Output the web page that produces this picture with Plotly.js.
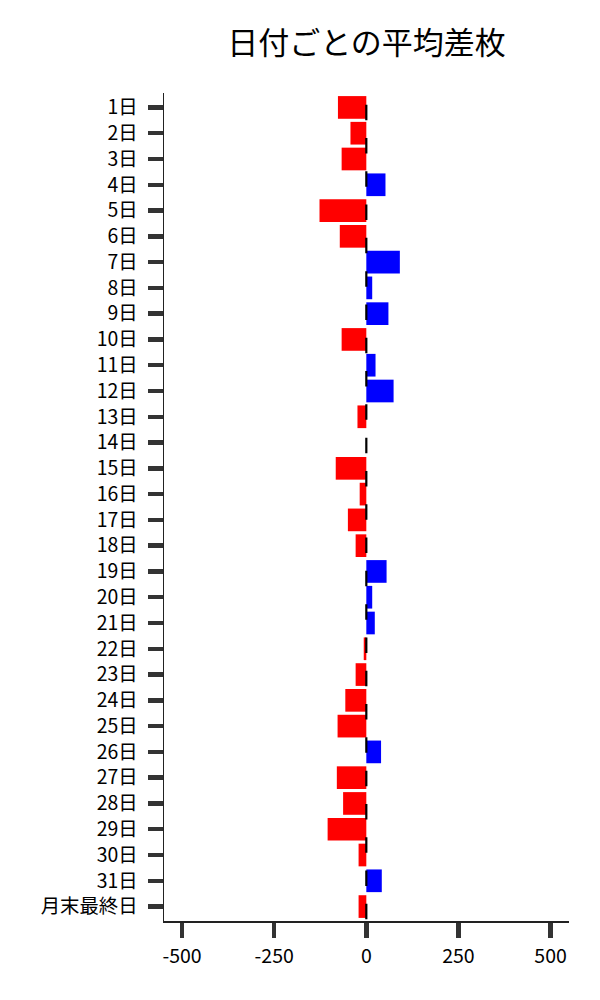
<!DOCTYPE html>
<html>
<head>
<meta charset="utf-8">
<script src="https://cdn.plot.ly/plotly-3.0.1.min.js"></script>
<style>
  html, body { margin: 0; padding: 0; background: #fff; }
  #plot { width: 600px; height: 1000px; }
</style>
</head>
<body>
<div id="plot"></div>
<script>
    const days = [
        '1日', '2日', '3日', '4日', '5日', '6日', '7日', '8日', '9日', '10日',
        '11日', '12日', '13日', '14日', '15日', '16日', '17日', '18日', '19日', '20日',
        '21日', '22日', '23日', '24日', '25日', '26日', '27日', '28日', '29日', '30日',
        '31日', '月末最終日'
    ];
    const avgDiff = [
        -77, -43, -67, 52, -127, -72, 91, 16, 60, -67,
        25, 74, -24, 0, -83, -18, -50, -29, 55, 16,
        23, -7, -29, -57, -78, 40, -80, -63, -105, -21,
        42, -21
    ];
    const xTicks = [-500, -250, 0, 250, 500];

    const font = 'Noto Sans CJK JP, Noto Sans, sans-serif';
    const barColors = avgDiff.map(v => v < 0 ? '#ff0000' : '#0000ff');

    const trace = {
        type: 'bar',
        orientation: 'h',
        y: days,
        x: avgDiff,
        width: 0.88,
        marker: { color: barColors, line: { width: 0 } },
        hoverinfo: 'skip'
    };

    const layout = {
        width: 600,
        height: 1000,
        margin: { l: 164, r: 31, t: 93, b: 79 },
        paper_bgcolor: '#ffffff',
        plot_bgcolor: '#ffffff',
        showlegend: false,
        hovermode: false,
        font: { family: font, color: '#000', size: 19 },
        title: {
            text: '日付ごとの平均差枚',
            font: { family: font, size: 31, color: '#000' },
            x: 0.5, xref: 'paper',
            y: 0.957, yref: 'container', yanchor: 'middle'
        },
        xaxis: {
            range: [-549, 550],
            tickvals: xTicks,
            ticktext: xTicks.map(String),
            ticks: 'outside',
            ticklen: 15,
            tickwidth: 4.5,
            tickcolor: '#333',
            showline: true,
            linecolor: '#222',
            linewidth: 1.5,
            showgrid: false,
            zeroline: false,
            ticklabelstandoff: 2,
            tickfont: { family: font, size: 19.5, color: '#000' }
        },
        yaxis: {
            type: 'category',
            categoryorder: 'array',
            categoryarray: days,
            range: [31.56, -0.56],
            ticks: 'outside',
            ticklen: 15,
            tickwidth: 4.5,
            tickcolor: '#333',
            showline: true,
            linecolor: '#222',
            linewidth: 1.5,
            showgrid: false,
            zeroline: false,
            ticklabelstandoff: 6,
            tickfont: { family: font, size: 19.4, color: '#000' }
        },
        shapes: [{
            type: 'line',
            xref: 'x', yref: 'y',
            x0: 0, x1: 0,
            y0: -1.40, y1: 32,
            layer: 'above',
            line: { color: '#000', width: 2.2, dash: '15.5px,17.8px' }
        }]
    };

    Plotly.newPlot('plot', [trace], layout, { displayModeBar: false, staticPlot: true });
</script>
</body>
</html>
